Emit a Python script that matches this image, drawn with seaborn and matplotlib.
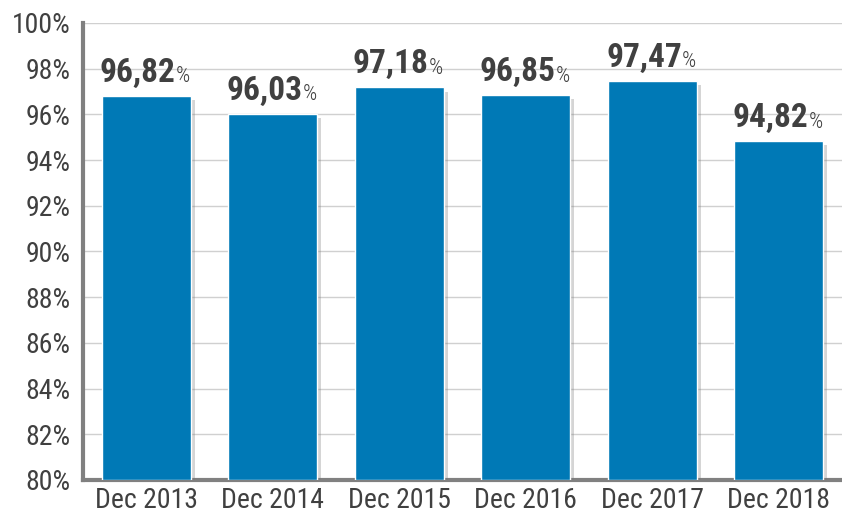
import matplotlib
matplotlib.use("Agg")
import matplotlib.pyplot as plt
import matplotlib.patheffects as pe
from matplotlib import font_manager
from matplotlib.ticker import FuncFormatter
import seaborn as sns
import pandas as pd

# data
periods = ["Dec 2013", "Dec 2014", "Dec 2015", "Dec 2016", "Dec 2017", "Dec 2018"]
rates = [96.82, 96.03, 97.18, 96.85, 97.47, 94.82]
value_labels = ["96,82", "96,03", "97,18", "96,85", "97,47", "94,82"]

bar_color = "#0079b6"
text_color = "#404040"

sns.set_style("white")

# pick a narrow face if one is installed
names = {f.name for f in font_manager.fontManager.ttflist}
narrow = [n for n in ["Roboto Condensed", "Liberation Sans Narrow", "DejaVu Sans Condensed",
                      "Open Sans Condensed"] if n in names]
condensed_files = [f for f in font_manager.fontManager.ttflist
                   if f.stretch in ("condensed", "semi-condensed", 'extra-condensed')]
if narrow:
    plt.rcParams["font.family"] = [narrow[0], "DejaVu Sans"]
    squeeze = False
elif condensed_files:
    plt.rcParams["font.family"] = [condensed_files[0].name, "DejaVu Sans"]
    plt.rcParams["font.stretch"] = condensed_files[0].stretch
    squeeze = False
else:
    plt.rcParams["font.family"] = ["DejaVu Sans"]
    squeeze = True

tick_size = 16 if squeeze else 20
num_size = 19 if squeeze else 24
pct_size = 13 if squeeze else 16

df = pd.DataFrame({"period": periods, "rate": rates})

fig = plt.figure(figsize=(8.42, 5.17), dpi=100)
ax = fig.add_axes([0.0986, 0.0716, 0.9014, 0.884])

# bars drawn from the 80% floor
sns.barplot(data=df, x="period", y="rate", color=bar_color, width=0.7,
            saturation=1, ax=ax, zorder=3)
for patch in ax.patches:
    h = patch.get_height()
    patch.set_y(80)
    patch.set_height(h - 80)
    patch.set_path_effects([pe.SimplePatchShadow(offset=(3, -3), shadow_rgbFace="#777777", alpha=0.3),
                            pe.Normal()])

ax.set_ylim(80, 100)
ax.set_xlim(-0.5, 5.5)
ax.set_yticks(range(80, 101, 2))
ax.yaxis.set_major_formatter(FuncFormatter(lambda v, p: f"{int(v)}%"))
ax.grid(axis="y", color="#d0d0d0", linewidth=1, zorder=0)
ax.set_axisbelow(True)
ax.set_xlabel("")
ax.set_ylabel("")
ax.tick_params(axis="y", length=0, labelsize=tick_size, labelcolor=text_color, pad=9)
ax.tick_params(axis="x", length=0, labelsize=tick_size, labelcolor=text_color, pad=5)

for side in ["top", "right"]:
    ax.spines[side].set_visible(False)
for side in ["left", "bottom"]:
    ax.spines[side].set_color("#808080")
    ax.spines[side].set_linewidth(3)

# value labels: bold number with a smaller percent sign
fig.canvas.draw()
renderer = fig.canvas.get_renderer()
for i, (val, lab) in enumerate(zip(rates, value_labels)):
    t = ax.annotate(lab, xy=(i, val), xytext=(-6, 5), textcoords="offset points",
                    ha="center", va="bottom", fontsize=num_size, fontweight="bold",
                    color=text_color)
    bb = t.get_window_extent(renderer)
    x_end, y_base = ax.transData.inverted().transform((bb.x1, bb.y0))
    ax.annotate("%", xy=(x_end, val), xytext=(0, 6), textcoords="offset points",
                ha="left", va="bottom", fontsize=pct_size, fontweight="light",
                color=text_color)

fig.savefig("out.png", dpi=100)
